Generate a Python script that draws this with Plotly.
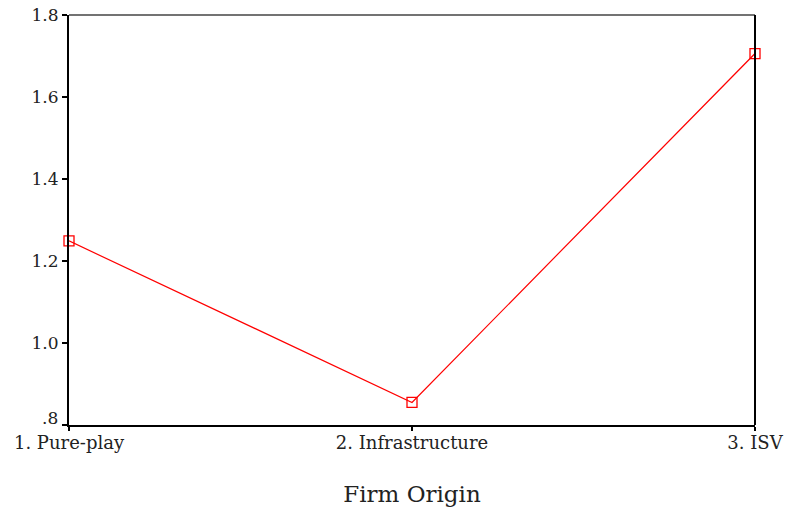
import plotly.graph_objects as go

# Mean scores by firm origin
categories = ["1. Pure-play", "2. Infrastructure", "3. ISV"]
means = [1.249, 0.855, 1.706]
y_ticks = [0.8, 1.0, 1.2, 1.4, 1.6, 1.8]
y_tick_labels = [".8", "1.0", "1.2", "1.4", "1.6", "1.8"]

positions = list(range(len(categories)))
font_family = "DejaVu Serif, Liberation Serif, serif"

fig = go.Figure(
    go.Scatter(
        x=positions,
        y=means,
        mode="lines+markers",
        line=dict(color="#ff0000", width=1.2),
        marker=dict(symbol="square-open", size=10, color="#ff0000", line=dict(width=1.3)),
        cliponaxis=False,
        showlegend=False,
    )
)

fig.update_layout(
    width=785,
    height=511,
    margin=dict(l=69, r=30, t=15, b=86, autoexpand=False),
    paper_bgcolor="white",
    plot_bgcolor="white",
    font=dict(family=font_family, size=18, color="#222"),
)

fig.update_xaxes(
    range=[0, len(categories) - 1],
    tickvals=positions,
    ticktext=categories,
    showgrid=False,
    zeroline=False,
    showline=True,
    linecolor="black",
    linewidth=2,
    ticks="outside",
    ticklen=4,
    tickwidth=1.5,
    tickcolor="black",
    tickfont=dict(size=18),
    ticklabelstandoff=-4,
    automargin=False,
    title=dict(text="Firm Origin", font=dict(size=23), standoff=34),
)

# The lowest y label sits raised above its tick so it clears the x labels,
# so it is drawn as an annotation and left blank on the axis itself.
axis_labels = [""] + y_tick_labels[1:]

fig.update_yaxes(
    range=[0.8, 1.8],
    tickvals=y_ticks,
    ticktext=axis_labels,
    showgrid=False,
    zeroline=False,
    showline=True,
    linecolor="black",
    linewidth=2,
    ticks="outside",
    ticklen=5,
    tickwidth=1.5,
    tickcolor="black",
    tickfont=dict(size=17),
    automargin=False,
)

fig.add_annotation(
    x=0, xref="paper", xanchor="right", xshift=-9,
    y=y_ticks[0], yref="y", yanchor="middle", yshift=7,
    text=y_tick_labels[0], showarrow=False,
    font=dict(family=font_family, size=17, color="#222"),
)

# Top and right frame edges
fig.add_shape(type="line", xref="paper", yref="paper", x0=0, x1=1, y0=1, y1=1,
              line=dict(color="#444", width=1.5))
fig.add_shape(type="line", xref="paper", yref="paper", x0=1, x1=1, y0=0, y1=1,
              line=dict(color="black", width=2))

fig.write_html("out.html")
